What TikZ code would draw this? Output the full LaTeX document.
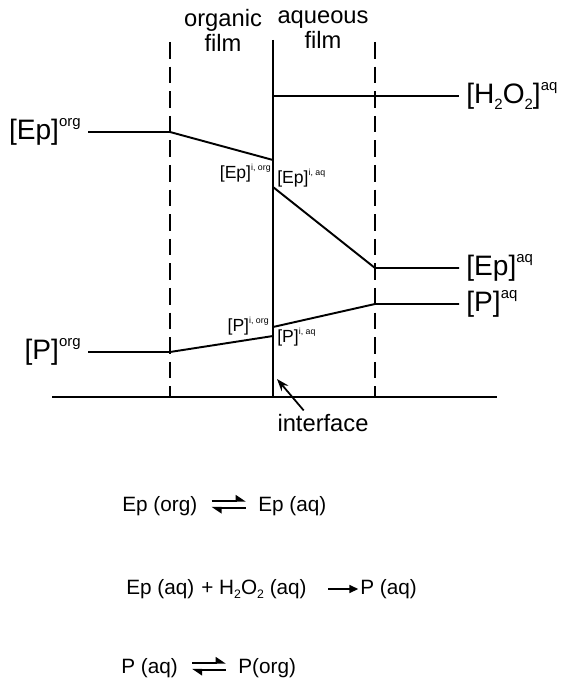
\documentclass[tikz,border=0pt]{standalone}
\usepackage{fontspec}
\setmainfont{Liberation Sans}
\usetikzlibrary{arrows.meta}
\newcommand\sps[2][8.5]{\raisebox{0.45em}{\fontsize{#1}{#1}\selectfont #2}}
\newcommand\sbs[2][8.5]{\raisebox{-0.2em}{\fontsize{#1}{#1}\selectfont #2}}
\tikzset{
  lab/.style={inner xsep=4pt, inner ysep=0pt, font=\fontsize{13.5}{14.2}\selectfont},
  big/.style={lab, font=\fontsize{16}{16.5}\selectfont},
  tiny/.style={inner sep=0pt, font=\fontsize{10}{11}\selectfont},
  eq/.style={inner sep=0pt, anchor=west, font=\fontsize{11.8}{13}\selectfont},
  film/.style={line width=1.6pt, dash pattern=on 9.5pt off 4.5pt},
  wall/.style={line width=1.7pt},
  prof/.style={line width=1.1pt},
  fwd/.style={line width=0.9pt, -{Triangle[harpoon, length=5pt, width=6.5pt]}},
  rxn/.style={line width=0.9pt, -{Triangle[length=5pt, width=4.5pt]}},
  ptr/.style={line width=1pt, -{Stealth[length=7pt, width=5pt]}},
}
\begin{document}
\begin{tikzpicture}[x=0.02cm, y=-0.02cm]
  \useasboundingbox (0,0) rectangle (561,686);
  \coordinate (lt) at (170,42); \coordinate (lb) at (170,397);
  \coordinate (it) at (273,40); \coordinate (ib) at (273,397);
  \coordinate (rt) at (375,42); \coordinate (rb) at (375,397);
  \coordinate (g0) at (52,397); \coordinate (g1) at (497,397);
  \draw[wall] (g0) -- (g1);
  \draw[wall] (it) -- (ib);
  \draw[film] (lt) -- (lb);
  \draw[film] (rt) -- (rb);

  \node[lab, align=center] (org) at (223,30) {organic\\film};
  \node[lab, align=center] (aq) at (323,30) {aqueous\\film};

  \node[big, anchor=west] (h2o2) at (459,96) {[H\sbs{2}O\sbs{2}]\sps{aq}};
  \coordinate (hw) at (273,96);
  \draw[prof] (hw) -- (h2o2.west);

  \node[big, anchor=east] (epo) at (88,132) {[Ep]\sps{org}};
  \node[big, anchor=west] (epa) at (459,268) {[Ep]\sps{aq}};
  \coordinate (ep1) at (170,132);
  \coordinate (ep2) at (273,160);
  \coordinate (ep3) at (273,187);
  \coordinate (ep4) at (375,268);
  \draw[prof] (epo.east) -- (ep1) -- (ep2);
  \draw[prof] (ep3) -- (ep4) -- (epa.west);

  \node[big, anchor=east] (po) at (88,352) {[P]\sps{org}};
  \node[big, anchor=west] (pa) at (459,304) {[P]\sps{aq}};
  \coordinate (p1) at (170,352);
  \coordinate (p2) at (273,336);
  \coordinate (p3) at (273,327);
  \coordinate (p4) at (375,304);
  \draw[prof] (po.east) -- (p1) -- (p2);
  \draw[prof] (p3) -- (p4) -- (pa.west);

  \node[tiny, anchor=east] (epio) at (271,173) {[Ep]\sps[5]{i, org}};
  \node[tiny, anchor=west] (epia) at (277,178) {[Ep]\sps[5]{i, aq}};
  \node[tiny, anchor=east] (pio) at (269,326) {[P]\sps[5]{i, org}};
  \node[tiny, anchor=west] (pia) at (277,337) {[P]\sps[5]{i, aq}};

  \node[lab] (ifc) at (323,423) {interface};
  \coordinate (ifp) at (277,379);
  \draw[ptr] ([xshift=-11pt, yshift=2pt]ifc.north) -- (ifp);

  \node[eq] (e1a) at (122,506) {Ep (org)};
  \node[eq] (e1b) at (258,506) {Ep (aq)};
  \draw[fwd, shorten <=8pt, shorten >=7pt] ([yshift=3pt]e1a.east) -- ([yshift=3pt]e1b.west);
  \draw[fwd, shorten <=7pt, shorten >=8pt] ([yshift=-1pt]e1b.west) -- ([yshift=-1pt]e1a.east);

  \node[eq] (e2a) at (126,589) {Ep (aq)\hspace{4pt}+ H\sbs[7]{2}O\sbs[7]{2} (aq)};
  \node[eq] (e2b) at (360,589) {P (aq)};
  \draw[rxn, shorten <=12pt, shorten >=1pt] (e2a.east) -- (e2b.west);

  \node[eq] (e3a) at (121,668) {P (aq)};
  \node[eq] (e3b) at (238,668) {P(org)};
  \draw[fwd, shorten <=8pt, shorten >=7pt] ([yshift=3pt]e3a.east) -- ([yshift=3pt]e3b.west);
  \draw[fwd, shorten <=7pt, shorten >=8pt] ([yshift=-1pt]e3b.west) -- ([yshift=-1pt]e3a.east);
\end{tikzpicture}
\end{document}
